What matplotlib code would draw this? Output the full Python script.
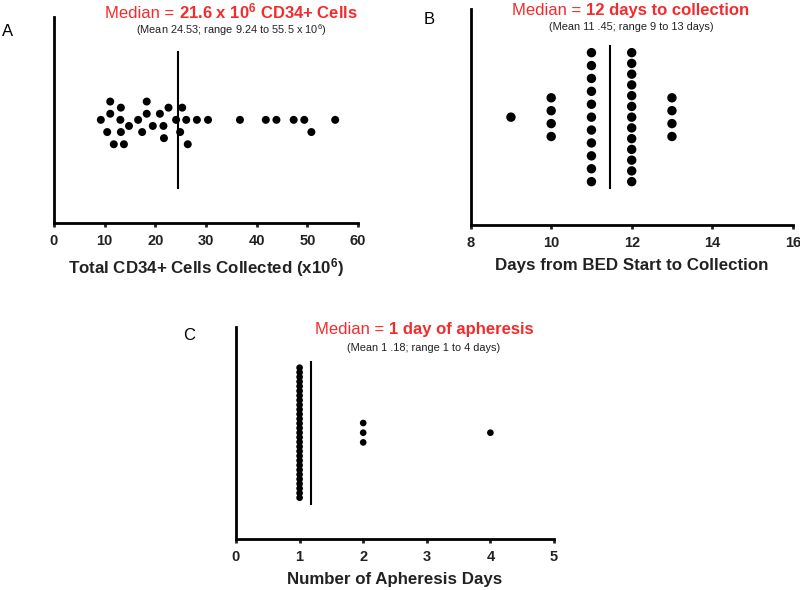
import numpy as np
import matplotlib
matplotlib.use('Agg')
from matplotlib import pyplot as plt

plt.rcParams['font.family'] = ['Liberation Sans', 'DejaVu Sans']
plt.rcParams['mathtext.default'] = 'regular'

# PANEL A DATA - total CD34+ cells collected (x10^6)
cd34 = [9.24, 10.5, 11.1, 11.1, 11.8, 13.1, 13.2, 13.2, 13.8, 14.8, 16.6,
        17.4, 18.3, 18.3, 19.5, 20.9, 21.6, 21.7, 22.6, 24.1, 24.9, 25.3,
        26.1, 26.4, 28.2, 30.4, 36.7, 41.8, 43.9, 47.3, 49.4, 50.8, 55.5]

# PANEL B DATA - days from BED start to collection
days_vals = [9, 10, 11, 12, 13]
days_counts = [1, 4, 11, 13, 4]

# PANEL C DATA - number of apheresis days
aph_vals = [1, 2, 4]
aph_counts = [29, 3, 1]

W, H = 800, 590
fig = plt.figure(figsize=(8, 5.9), dpi=100)
red = '#f22c2c'
ink = '#222222'


def make_ax(l, r, b, t, xlim, ticks):
    ax = fig.add_axes([l / W, 1 - b / H, (r - l) / W, (b - t) / H])
    h = b - t
    ax.set_ylim(-h / 2, h / 2)  # y in pixels, centred
    ax.set_xlim(*xlim)
    ax.set_xticks(ticks)
    for s in ['top', 'right']:
        ax.spines[s].set_visible(False)
    for s in ['left', 'bottom']:
        ax.spines[s].set_linewidth(2.0)
    ax.set_yticks([])
    ax.tick_params(axis='x', direction='out', length=3, width=2, pad=5,
                   labelsize=10.5, colors=ink)
    for lab in ax.get_xticklabels():
        lab.set_fontweight('bold')
    return ax


def column_offsets(counts, spacing, max_span):
    offs = []
    for n in counts:
        step = spacing if n < 2 else min(spacing, max_span / (n - 1))
        offs.extend((np.arange(n) - (n - 1) / 2) * step)
    return np.array(offs)


def swarm_offsets(vals, px_per_unit, row, d):
    placed = []
    offs = []
    cands = [0]
    for i in range(1, 20):
        cands += [-i, i]
    for v in vals:
        x = v * px_per_unit
        for k in cands:
            y = k * row
            if all((x - px) ** 2 + (y - py) ** 2 >= d * d for px, py in placed):
                break
        placed.append((x, y))
        offs.append(y)
    return np.array(offs)


def title(cx, base_y, reg, bold, sub, sub_y):
    t1 = fig.text(0, 1 - base_y / H, reg, color=red, fontsize=12, va='baseline')
    t2 = fig.text(0, 1 - base_y / H, bold, color=red, fontsize=12,
                  fontweight='bold', va='baseline')
    fig.canvas.draw()
    r = fig.canvas.get_renderer()
    w1 = t1.get_window_extent(r).width
    w2 = t2.get_window_extent(r).width
    x0 = cx - (w1 + w2) / 2
    t1.set_x(x0 / W)
    t2.set_x((x0 + w1) / W)
    fig.text(cx / W, 1 - sub_y / H, sub, color=ink, fontsize=7.9,
             ha='center', va='baseline')


def xlabel(ax, txt):
    ax.set_xlabel(txt, fontsize=12.2, fontweight='bold', color=ink, labelpad=6)


# PANEL A
axA = make_ax(54, 358, 222.7, 17, (0, 60), range(0, 61, 10))
vals = np.sort(np.array(cd34))
yA = swarm_offsets(vals, 304 / 60, 6.1, 10.0)
axA.scatter(vals, yA, s=33, color='black', edgecolors='none', zorder=3)
axA.plot([np.mean(cd34)] * 2, [-68, 68], color='black', lw=1.5)
xlabel(axA, 'Total CD34+ Cells Collected (x10$^{6}$)')
fig.text(8 / W, 1 - 31 / H, 'A', fontsize=12, ha='center', va='center')
title(231, 18.3, 'Median = ', '21.6 x 10$^{6}$ CD34+ Cells',
      '(Mean 24.53; range 9.24 to 55.5 x 10$^{6}$)', 34.5)

# PANEL B
axB = make_ax(470.7, 792.7, 225, 9.3, (8, 16), range(8, 17, 2))
xB = np.repeat(days_vals, days_counts)
yB = column_offsets(days_counts, 12.9, 129)
axB.scatter(xB, yB, s=46, color='black', edgecolors='none', zorder=3)
axB.plot([np.mean(xB)] * 2, [-71, 71], color='black', lw=1.5)
xlabel(axB, 'Days from BED Start to Collection')
fig.text(429 / W, 1 - 19 / H, 'B', fontsize=12, ha='center', va='center')
title(631, 15, 'Median = ', '12 days to collection',
      '(Mean 11 .45; range 9 to 13 days)', 30)

# PANEL C
axC = make_ax(236, 554, 538.7, 326.7, (0, 5), range(0, 6))
xC = np.repeat(aph_vals, aph_counts)
yC = column_offsets(aph_counts, 9.7, 130)
axC.scatter(xC, yC, s=23, color='black', edgecolors='none', zorder=3)
axC.plot([np.mean(xC)] * 2, [-71, 71], color='black', lw=1.5)
xlabel(axC, 'Number of Apheresis Days')
fig.text(189 / W, 1 - 336 / H, 'C', fontsize=12, ha='center', va='center')
title(424, 334.3, 'Median = ', '1 day of apheresis',
      '(Mean 1 .18; range 1 to 4 days)', 351)

fig.savefig('out.png', dpi=100)
